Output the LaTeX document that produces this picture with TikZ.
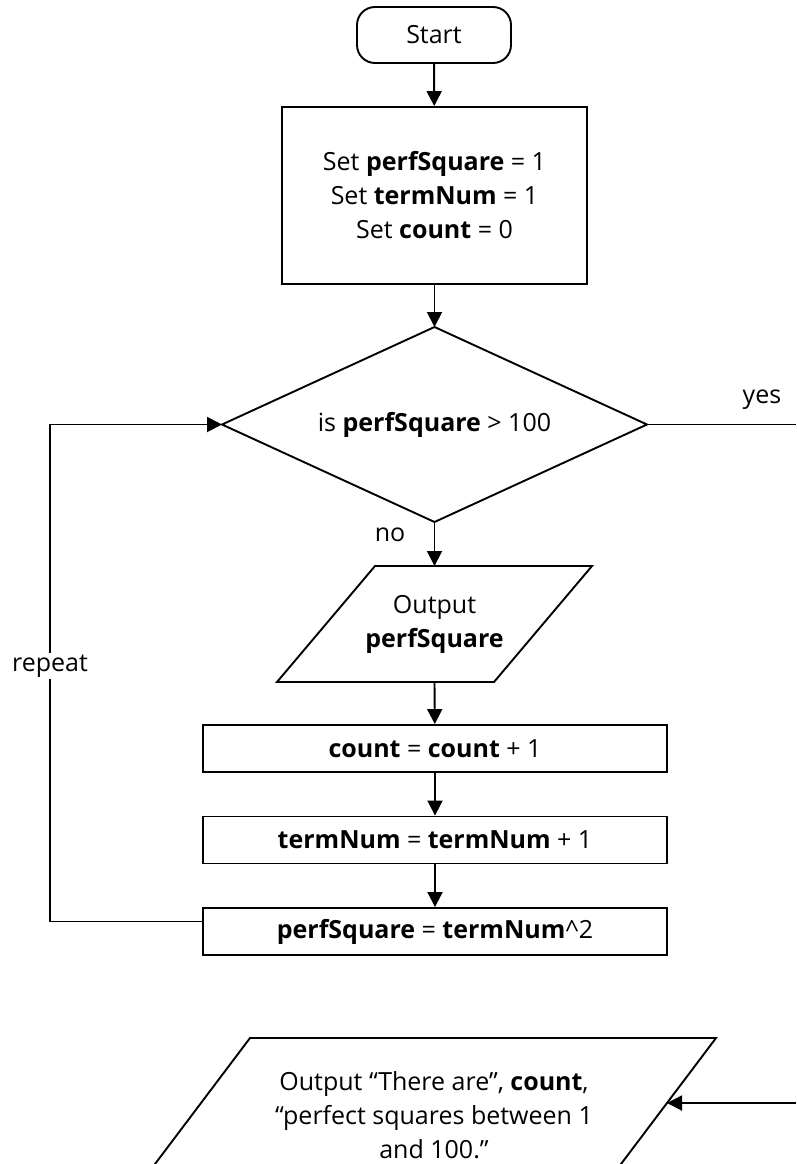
\documentclass[tikz,border=0pt]{standalone}
\usepackage{fontspec}
\setmainfont{Open Sans}
\usetikzlibrary{arrows.meta,shapes.geometric,calc}
\begin{document}
\begin{tikzpicture}[x=1pt,y=-1pt,
  every node/.style={font=\fontsize{25}{34}\selectfont},
  line/.style={line width=1.9pt},
  arr/.style={line width=1.9pt,-{Triangle[length=15pt,width=15pt]}},
  box/.style={draw,line width=1.9pt,rectangle,inner sep=0pt,align=center},
  frame/.style={draw=none,rectangle,inner sep=0pt,outer sep=0pt,align=center},
  lbl/.style={inner sep=2pt}
]
\useasboundingbox (0,0) rectangle (796,1164);
\clip (0,0) rectangle (796,1164);

\node[box,rounded corners=18pt,minimum width=154pt,minimum height=56pt] (start) at (434,35) {Start};
\node[box,minimum width=305pt,minimum height=177pt] (init) at (434.5,195.5)
  {Set \textbf{perfSquare} = 1\\Set \textbf{termNum} = 1\\Set \textbf{count} = 0};

\node[frame,minimum width=425pt,minimum height=195pt] (dec) at (434.5,424.5) {is \textbf{perfSquare} > 100};
\draw[line] (dec.north) -- (dec.east) -- (dec.south) -- (dec.west) -- cycle;

\node[frame,minimum width=315pt,minimum height=116pt] (out1) at (434.5,624) {Output\\\textbf{perfSquare}};
\draw[line] ($(out1.north west)+(98,0)$) -- (out1.north east) -- ($(out1.south east)+(-98,0)$) -- (out1.south west) -- cycle;

\node[box,minimum width=464pt,minimum height=47pt] (inc1) at (435,748.5) {\textbf{count} = \textbf{count} + 1};
\node[box,minimum width=464pt,minimum height=47pt] (inc2) at (435,840) {\textbf{termNum} = \textbf{termNum} + 1};
\node[box,minimum width=464pt,minimum height=47pt] (sq) at (435,931.5) {\textbf{perfSquare} = \textbf{termNum}\textasciicircum 2};

\node[frame,minimum width=564pt,minimum height=130pt] (out2) at (434,1103) {};
\draw[line] ($(out2.north west)+(98,0)$) -- (out2.north east) -- ($(out2.south east)+(-98,0)$) -- (out2.south west) -- cycle;
\node[lbl,align=center] (out2txt) at (434,1115) {Output “There are”, \textbf{count},\\“perfect squares between 1\\and 100.”};

\draw[arr] (start) -- (init);
\draw[arr] (init) -- (dec.north);
\draw[arr] (dec.south) -- (out1.north);
\draw[arr] (out1.south) -- (inc1);
\draw[arr] (inc1) -- (inc2);
\draw[arr] (inc2) -- (sq);

\coordinate (loopTL) at (50,424.5);
\draw[arr] ([yshift=10pt]sq.west) -| (loopTL) -- (dec.west);
\node[lbl,fill=white] (rep) at (50,666) {repeat};

\coordinate (yesEnd) at (796,424.5);
\draw[line] (dec.east) -- (yesEnd);
\node[lbl] (yes) at (762,400) {yes};
\node[lbl] (no) at (390,535) {no};

\coordinate (finStart) at (796,1103);
\coordinate (out2in) at ($(out2.east)+(-49,0)$);
\draw[arr] (finStart) -- (out2in);
\end{tikzpicture}
\end{document}
